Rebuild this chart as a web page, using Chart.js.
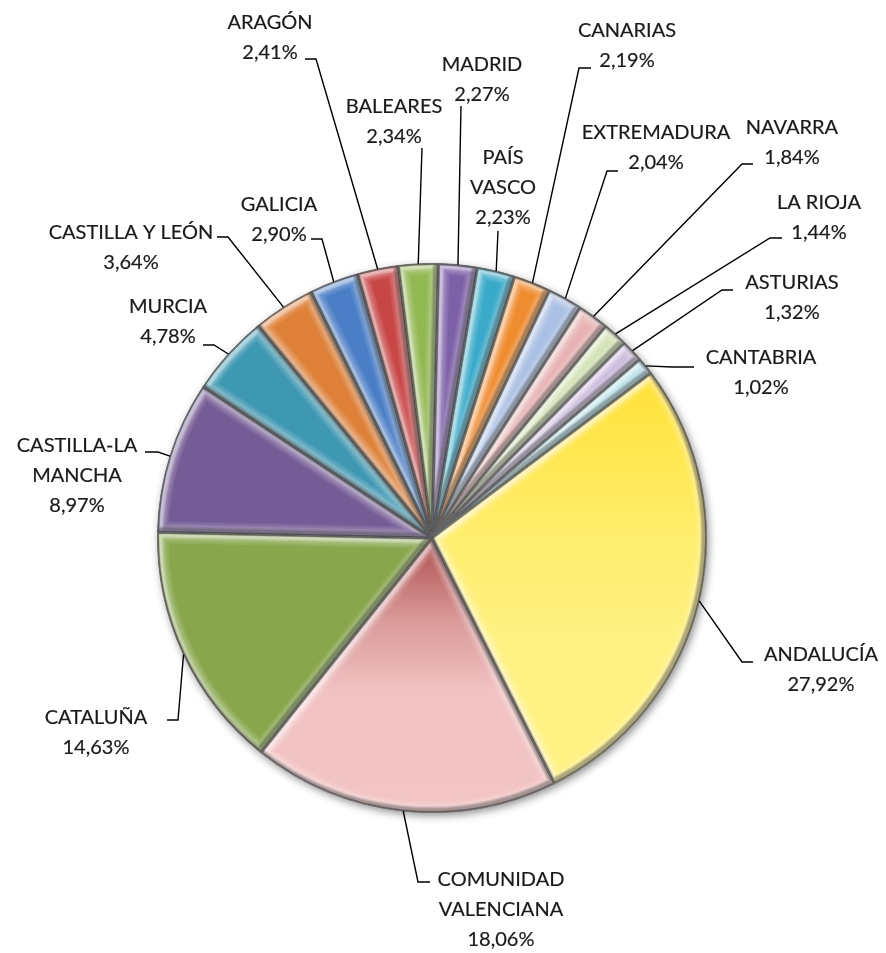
<!DOCTYPE html>
<html>
<head>
<meta charset="utf-8">
<script src="https://cdn.jsdelivr.net/npm/chart.js@4/dist/chart.umd.min.js"></script>
<style>
  html, body { margin: 0; padding: 0; background: #fff; }
</style>
</head>
<body>
<canvas id="pie" width="886" height="953"></canvas>
<script>
// data
const regions = [
  "ANDALUCÍA", "COMUNIDAD VALENCIANA", "CATALUÑA", "CASTILLA-LA MANCHA", "MURCIA",
  "CASTILLA Y LEÓN", "GALICIA", "ARAGÓN", "BALEARES", "MADRID", "PAÍS VASCO",
  "CANARIAS", "EXTREMADURA", "NAVARRA", "LA RIOJA", "ASTURIAS", "CANTABRIA"
];
const shares = [27.92, 18.06, 14.63, 8.97, 4.78, 3.64, 2.90, 2.41, 2.34, 2.27, 2.23, 2.19, 2.04, 1.84, 1.44, 1.32, 1.02];
// how each region name is broken over lines in the label
const nameLines = [
  ["ANDALUCÍA"], ["COMUNIDAD", "VALENCIANA"], ["CATALUÑA"], ["CASTILLA-LA", "MANCHA"], ["MURCIA"],
  ["CASTILLA Y LEÓN"], ["GALICIA"], ["ARAGÓN"], ["BALEARES"], ["MADRID"], ["PAÍS", "VASCO"],
  ["CANARIAS"], ["EXTREMADURA"], ["NAVARRA"], ["LA RIOJA"], ["ASTURIAS"], ["CANTABRIA"]
];

// styles
const baseColors = [
  "#FFEE76", "#F2C2C2", "#88A64C", "#755C96", "#3F98B2", "#DE8038", "#4A7EC6", "#C84646",
  "#92B852", "#7D60A8", "#3AAACA", "#F08C30", "#AAC0E4", "#E8B2B2", "#D2E2B2", "#C8B8DC", "#B2DEEA"
];
// vertical gradients (fraction of pie height, colour) for the two shaded slices
const gradientStops = {
  0: [[0, "#FFDE2C"], [0.19, "#FFE033"], [0.5, "#FFEE6E"], [0.7, "#FFF184"], [1, "#FFF184"]],
  1: [[0, "#AE4C4C"], [0.5, "#AE4C4C"], [0.65, "#DA9A9A"], [0.78, "#F2C2C2"], [1, "#F2C4C4"]]
};

// label placement: text centre x, first line y, elbow of leader, end of short horizontal
const labelPos = [
  { x: 821, y: 655, ex: 742, ey: 662, hx: 753 },
  { x: 501, y: 880, ex: 418, ey: 882, hx: 430 },
  { x: 96,  y: 718, ex: 178, ey: 720, hx: 167 },
  { x: 77,  y: 446, ex: 158, ey: 452, hx: 145 },
  { x: 168, y: 307, ex: 214, ey: 345, hx: 203 },
  { x: 131, y: 233, ex: 228, ey: 237, hx: 217 },
  { x: 279, y: 205, ex: 322, ey: 239, hx: 311 },
  { x: 270, y: 23,  ex: 316, ey: 59,  hx: 305 },
  { x: 394, y: 107, ex: 422, ey: 148, hx: 422 },
  { x: 482, y: 65,  ex: 461, ey: 106, hx: 461 },
  { x: 503, y: 158, ex: 498, ey: 231, hx: 498 },
  { x: 627, y: 31,  ex: 579, ey: 68,  hx: 591 },
  { x: 656, y: 133, ex: 607, ey: 171, hx: 618 },
  { x: 792, y: 128, ex: 742, ey: 164, hx: 753 },
  { x: 819, y: 203, ex: 770, ey: 238, hx: 782 },
  { x: 792, y: 283, ex: 722, ey: 290, hx: 733 },
  { x: 761, y: 358, ex: 672, ey: 367, hx: 694 }
];

const pctText = v => v.toFixed(2).replace(".", ",") + "%";

const sliceFill = (c) => {
  const chart = c.chart;
  const area = chart.chartArea;
  const i = c.dataIndex;
  const stops = gradientStops[i];
  if (!area || !stops) return baseColors[i] || "#ccc";
  const g = chart.ctx.createLinearGradient(0, area.top, 0, area.bottom);
  stops.forEach(([f, col]) => g.addColorStop(f, col));
  return g;
};

function slicePath(ctx, a) {
  ctx.moveTo(a.x, a.y);
  ctx.arc(a.x, a.y, a.outerRadius, a.startAngle, a.endAngle);
  ctx.closePath();
}

// light/dark bands along the slice edges, drawn inside the slice only
function edgeBand(ctx, a, color, widths, dx, dy) {
  ctx.save();
  ctx.beginPath();
  slicePath(ctx, a);
  ctx.clip();
  ctx.translate(dx, dy);
  ctx.lineJoin = "round";
  ctx.strokeStyle = color;
  widths.forEach(w => {
    ctx.beginPath();
    slicePath(ctx, a);
    ctx.lineWidth = w;
    ctx.stroke();
  });
  ctx.restore();
}

const pieBevel = {
  id: "pieBevel",
  beforeDatasetsDraw(chart) {
    const a = chart.getDatasetMeta(0).data[0];
    const ctx = chart.ctx;
    ctx.save();
    ctx.shadowColor = "rgba(0,0,0,0.45)";
    ctx.shadowBlur = 9;
    ctx.shadowOffsetX = 2;
    ctx.shadowOffsetY = 3;
    ctx.beginPath();
    ctx.arc(a.x, a.y, a.outerRadius, 0, Math.PI * 2);
    ctx.fillStyle = "#999";
    ctx.fill();
    ctx.restore();
  },
  afterDatasetsDraw(chart) {
    const ctx = chart.ctx;
    chart.getDatasetMeta(0).data.forEach(a => {
      edgeBand(ctx, a, "rgba(255,255,255,0.09)", [22, 18, 15, 12, 10, 8], 0, 0);
      edgeBand(ctx, a, "rgba(255,255,255,0.12)", [8, 6, 4], 2, 2);
      edgeBand(ctx, a, "rgba(0,0,0,0.12)", [8, 6, 4], -2, -2);
      edgeBand(ctx, a, "rgba(30,30,30,0.45)", [3], 0, 0);
    });
  }
};

const leaderLabels = {
  id: "leaderLabels",
  afterDraw(chart) {
    const ctx = chart.ctx;
    const arcs = chart.getDatasetMeta(0).data;
    ctx.save();
    ctx.font = "20px Lato";
    ctx.textAlign = "center";
    ctx.textBaseline = "middle";
    arcs.forEach((a, i) => {
      const p = labelPos[i];
      const mid = (a.startAngle + a.endAngle) / 2;
      const sx = a.x + a.outerRadius * Math.cos(mid);
      const sy = a.y + a.outerRadius * Math.sin(mid);
      ctx.strokeStyle = "#000";
      ctx.lineWidth = 1.4;
      ctx.beginPath();
      ctx.moveTo(sx, sy);
      ctx.lineTo(p.ex, p.ey);
      ctx.lineTo(p.hx, p.ey);
      ctx.stroke();
      const lines = nameLines[i].concat([pctText(shares[i])]);
      ctx.fillStyle = "#1a1a1a";
      ctx.strokeStyle = "#1a1a1a";
      ctx.lineWidth = 0.2;
      lines.forEach((t, k) => {
        ctx.fillText(t, p.x, p.y + k * 30);
        ctx.strokeText(t, p.x, p.y + k * 30);
      });
    });
    ctx.restore();
  }
};

new Chart(document.getElementById("pie"), {
  type: "pie",
  data: {
    labels: regions,
    datasets: [{
      data: shares,
      backgroundColor: sliceFill,
      borderColor: "rgba(40,40,40,0.55)",
      borderWidth: 1
    }]
  },
  options: {
    responsive: false,
    animation: false,
    rotation: 53,
    layout: { padding: { left: 157, right: 179, top: 263, bottom: 140 } },
    plugins: { legend: { display: false }, tooltip: { enabled: false } }
  },
  plugins: [pieBevel, leaderLabels]
});
</script>
</body>
</html>
